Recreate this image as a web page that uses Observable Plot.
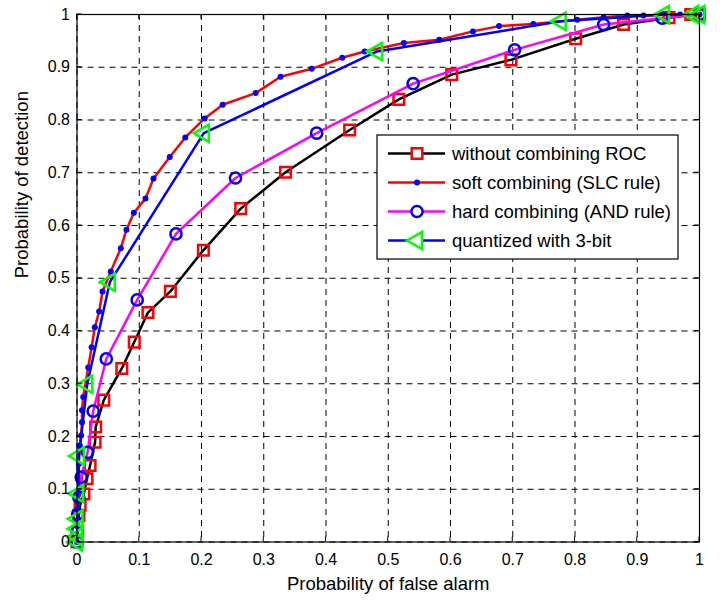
<!DOCTYPE html>
<html><head><meta charset="utf-8">
<script src="https://cdn.jsdelivr.net/npm/d3@7"></script>
<script src="https://cdn.jsdelivr.net/npm/@observablehq/plot@0.6"></script>
<style>body{margin:0;background:#fff} #chart{width:723px;height:600px}</style>
</head><body><div id="chart"></div>
<script>
// ---- data ----
const tickValues = [0, 0.1, 0.2, 0.3, 0.4, 0.5, 0.6, 0.7, 0.8, 0.9, 1];
const tickLabels = ["0", "0.1", "0.2", "0.3", "0.4", "0.5", "0.6", "0.7", "0.8", "0.9", "1"];
const xTitle = "Probability of false alarm";
const yTitle = "Probability of detection";
const seriesNames = ["without combining ROC", "soft combining (SLC rule)", "hard combining (AND rule)", "quantized with 3-bit"];

const noCombPfa = [0,0.001,0.003,0.005,0.011,0.016,0.021,0.029,0.030,0.043,0.072,0.092,0.114,0.150,0.203,0.263,0.335,0.438,0.517,0.602,0.697,0.801,0.878,0.951,0.986,1];
const noCombPd  = [0,0.02,0.05,0.07,0.091,0.12,0.145,0.189,0.218,0.269,0.329,0.379,0.435,0.475,0.553,0.632,0.701,0.781,0.839,0.886,0.914,0.954,0.981,0.994,1,1];

const softPfa = [0,0.0005,0.001,0.002,0.0025,0.003,0.0045,0.0067,0.008,0.008,0.010,0.018,0.0235,0.0286,0.0356,0.041,0.0543,0.0704,0.0795,0.0913,0.110,0.123,0.149,0.174,0.205,0.234,0.287,0.327,0.377,0.426,0.462,0.525,0.582,0.636,0.678,0.733,0.8035,0.846,0.884,0.91,0.969,1];
const softPd  = [0,0.03,0.06,0.09,0.117,0.148,0.183,0.202,0.227,0.25,0.275,0.331,0.369,0.407,0.437,0.475,0.513,0.557,0.592,0.624,0.651,0.689,0.730,0.767,0.803,0.829,0.851,0.882,0.897,0.918,0.930,0.946,0.952,0.968,0.978,0.982,0.990,0.995,0.998,0.998,1,1];

const hardPfa = [0,0.0003,0.001,0.003,0.0067,0.017,0.026,0.047,0.0967,0.159,0.2546,0.385,0.540,0.703,0.846,0.940,1];
const hardPd  = [0,0.02,0.053,0.085,0.123,0.17,0.248,0.347,0.459,0.584,0.690,0.775,0.869,0.933,0.981,0.993,1];

const quantPfa = [0,0,0.0005,0.001,0.002,0.003,0.0164,0.0527,0.2037,0.482,0.777,0.943,0.99,1];
const quantPd  = [0,0.01,0.025,0.044,0.092,0.163,0.299,0.4925,0.775,0.930,0.987,1,1,1];

// ---- build ----
const pts = (xs, ys) => xs.map((x, i) => ({x, y: ys[i]}));
const datasets = [pts(noCombPfa, noCombPd), pts(softPfa, softPd), pts(hardPfa, hardPd), pts(quantPfa, quantPd)];

const styles = [
  {line: "#000000", symbol: "square", r: 6, fill: "none", stroke: "#ff0000", rotate: 0},
  {line: "#ff0000", symbol: "circle", r: 3, fill: "#0000ff", stroke: "none", rotate: 0},
  {line: "#ff00ff", symbol: "circle", r: 5.6, fill: "none", stroke: "#0000ff", rotate: 0},
  {line: "#0000ff", symbol: "triangle", r: 6.4, fill: "none", stroke: "#00ff00", rotate: -90}
];

const seriesMarks = datasets.flatMap((d, k) => {
  const s = styles[k];
  return [
    Plot.line(d, {x: "x", y: "y", stroke: s.line, strokeWidth: 2.5}),
    Plot.dot(d, {x: "x", y: "y", symbol: s.symbol, r: s.r, fill: s.fill, stroke: s.stroke, strokeWidth: 2.5, rotate: s.rotate})
  ];
});

const fmt = d => tickLabels[tickValues.findIndex(t => Math.abs(t - d) < 1e-9)];
const font = "'Liberation Sans', Arial, Helvetica, sans-serif";

const plot = Plot.plot({
  width: 723, height: 600,
  marginLeft: 76.5, marginRight: 24, marginTop: 14, marginBottom: 58.5,
  style: {fontFamily: font, fontSize: "16px", color: "#000", background: "#fff", overflow: "visible"},
  x: {domain: [0, 1]},
  y: {domain: [0, 1]},
  marks: [
    Plot.gridX(tickValues, {stroke: "#000", strokeOpacity: 1, strokeWidth: 1, strokeDasharray: "6,5"}),
    Plot.gridY(tickValues, {stroke: "#000", strokeOpacity: 1, strokeWidth: 1, strokeDasharray: "6,5"}),
    ...seriesMarks,
    Plot.frame({stroke: "#000", strokeWidth: 1.2}),
    Plot.axisX(tickValues, {anchor: "bottom", tickSize: 0, tickPadding: 12, tickFormat: fmt, label: null, fontSize: 16}),
    Plot.axisY(tickValues, {anchor: "left", tickSize: 0, tickPadding: 7, tickFormat: fmt, label: null, fontSize: 16}),
    Plot.text([xTitle], {text: d => d, frameAnchor: "bottom", dy: 48, fontSize: 18.5}),
    Plot.text([yTitle], {text: d => d, frameAnchor: "left", rotate: -90, dx: -55, fontSize: 18.5})
  ]
});

// ---- inward ticks on all four sides (positions from the plot's scales) ----
const svg = d3.select(plot);
const xs = plot.scale("x"), ys = plot.scale("y");
const [fx0, fx1] = xs.range, [fy0, fy1] = ys.range; // fy0 bottom, fy1 top
const tg = svg.append("g").attr("stroke", "#000").attr("stroke-width", 1);
tickValues.forEach(t => {
  const px = xs.apply(t), py = ys.apply(t);
  tg.append("line").attr("x1", px).attr("x2", px).attr("y1", fy0).attr("y2", fy0 - 5);
  tg.append("line").attr("x1", px).attr("x2", px).attr("y1", fy1).attr("y2", fy1 + 5);
  tg.append("line").attr("y1", py).attr("y2", py).attr("x1", fx0).attr("x2", fx0 + 5);
  tg.append("line").attr("y1", py).attr("y2", py).attr("x1", fx1).attr("x2", fx1 - 5);
});

// ---- legend ----
const lg = svg.append("g").attr("transform", "translate(377,135)").style("font-family", font);
lg.append("rect").attr("width", 301).attr("height", 124).attr("fill", "#fff").attr("stroke", "#000").attr("stroke-width", 1.2);
const symbolMap = {square: d3.symbolSquare, circle: d3.symbolCircle, triangle: d3.symbolTriangle};
seriesNames.forEach((name, i) => {
  const s = styles[i];
  const cy = 18.5 + i * 29;
  lg.append("line").attr("x1", 11).attr("x2", 68).attr("y1", cy).attr("y2", cy).attr("stroke", s.line).attr("stroke-width", 2.5);
  lg.append("path")
    .attr("d", d3.symbol(symbolMap[s.symbol], s.r * s.r * Math.PI)())
    .attr("transform", `translate(40,${cy}) rotate(${s.rotate})`)
    .attr("fill", s.symbol === "circle" && s.fill === "none" ? "#fff" : s.fill === "none" ? "#fff" : s.fill)
    .attr("stroke", s.stroke).attr("stroke-width", 2.5);
  lg.append("text").attr("x", 75).attr("y", cy).attr("dy", "0.35em")
    .attr("text-anchor", "start").attr("font-size", 18.5).attr("fill", "#000").text(name);
});

document.getElementById("chart").appendChild(plot);
</script>
</body></html>
